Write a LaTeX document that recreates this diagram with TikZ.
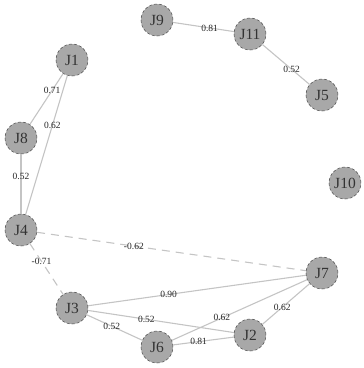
\documentclass[tikz,border=0pt]{standalone}
\usepackage{fontspec}
\setmainfont{Liberation Serif}
\begin{document}
\begin{tikzpicture}[x=1pt,y=-1pt,
  vert/.style={circle,fill=nodegray,draw=black!70,densely dashed,line width=0.5pt,minimum size=32pt,inner sep=0pt,font=\fontsize{15.5}{15.5}\selectfont,text=black!80},
  edge/.style={draw=edgegray,line width=1.1pt},
  negedge/.style={edge,dash pattern=on 8pt off 6pt},
  lab/.style={font=\fontsize{9.5}{9.5}\selectfont,text=black!85,inner sep=0.5pt}]
\definecolor{nodegray}{HTML}{A8A8A8}
\definecolor{edgegray}{HTML}{C4C4C4}
\useasboundingbox (0,0) rectangle (364,368);
\node[vert] (J9) at (157,20) {J9};
\node[vert] (J11) at (250,34) {J11};
\node[vert] (J1) at (72,60) {J1};
\node[vert] (J5) at (322,95) {J5};
\node[vert] (J8) at (21,138) {J8};
\node[vert] (J10) at (345,183) {J10};
\node[vert] (J4) at (21,230) {J4};
\node[vert] (J7) at (322,273) {J7};
\node[vert] (J3) at (72,308) {J3};
\node[vert] (J2) at (250,335) {J2};
\node[vert] (J6) at (157,347) {J6};
\path[edge] (J9) -- node[lab,pos=0.6] {0.81} (J11);
\path[edge] (J11) -- node[lab,pos=0.62] {0.52} (J5);
\path[edge] (J1) -- node[lab,pos=0.33] {0.71} (J8);
\path[edge] (J1) -- node[lab,pos=0.36] {0.62} (J4);
\path[edge] (J8) -- node[lab,pos=0.37] {0.52} (J4);
\path[negedge] (J4) -- node[lab,pos=0.36] {-0.62} (J7);
\path[negedge] (J4) -- node[lab,pos=0.35] {-0.71} (J3);
\path[edge] (J3) -- node[lab,pos=0.37] {0.90} (J7);
\path[edge] (J3) -- node[lab,pos=0.4] {0.52} (J2);
\path[edge] (J3) -- node[lab,pos=0.45] {0.52} (J6);
\path[edge] (J6) -- node[lab,pos=0.37] {0.62} (J7);
\path[edge] (J6) -- node[lab,pos=0.42] {0.81} (J2);
\path[edge] (J2) -- node[lab,pos=0.42] {0.62} (J7);
\end{tikzpicture}
\end{document}
